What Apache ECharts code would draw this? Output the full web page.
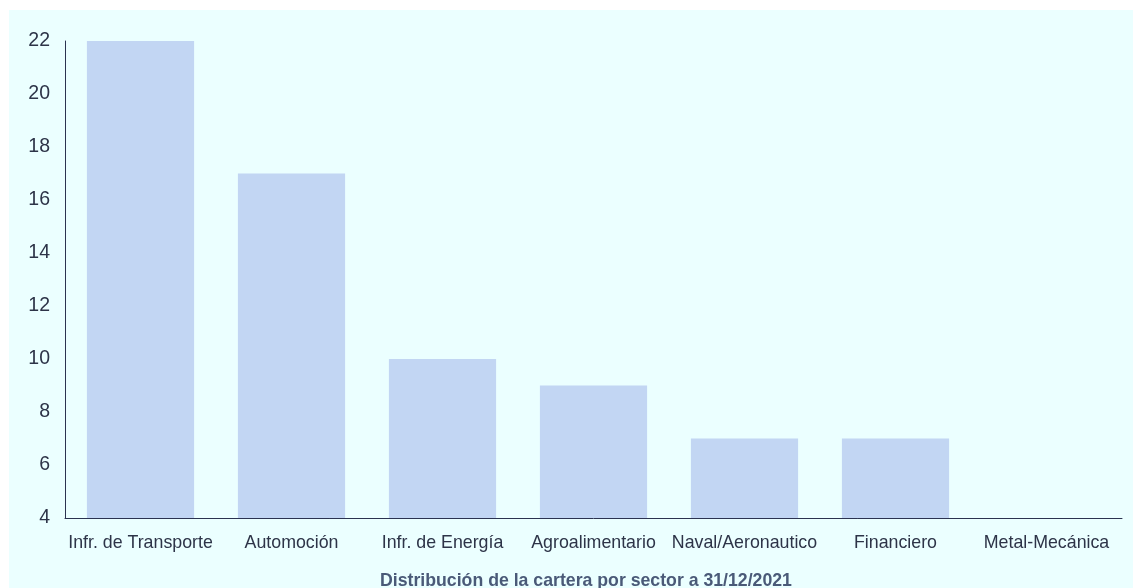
<!DOCTYPE html>
<html>
<head>
<meta charset="utf-8">
<script src="https://cdn.jsdelivr.net/npm/echarts@6/dist/echarts.min.js"></script>
<style>
html,body{margin:0;padding:0;background:#ffffff;width:1133px;height:588px;overflow:hidden;}
#c{position:absolute;left:9px;top:10px;width:1124px;height:578px;}
</style>
</head>
<body>
<div id="c"></div>
<script>
const categories = ["Infr. de Transporte","Automoción","Infr. de Energía","Agroalimentario","Naval/Aeronautico","Financiero","Metal-Mecánica"];
const values = [22,17,10,9,7,7,4];
const yMin = 4, yMax = 22, yStep = 2;
const titleText = "Distribución de la cartera por sector a 31/12/2021";

const chart = echarts.init(document.getElementById('c'));
chart.setOption({
  backgroundColor: '#ebffff',
  animation: false,
  grid: {left: 56, right: 11, top: 31, bottom: 70},
  xAxis: {
    type: 'category',
    data: categories,
    axisLine: {lineStyle: {color: '#2b3350', width: 1}},
    axisTick: {show: false},
    axisLabel: {interval: 0, color: '#2d3448', fontSize: 17.8, fontFamily: 'Liberation Sans, Arial, sans-serif', margin: 16}
  },
  yAxis: {
    type: 'value',
    min: yMin, max: yMax, interval: yStep,
    axisLine: {show: true, lineStyle: {color: '#2b3350', width: 1}},
    axisTick: {show: false},
    splitLine: {show: false},
    axisLabel: {color: '#2d3448', fontSize: 19.5, fontFamily: 'Liberation Sans, Arial, sans-serif', margin: 15}
  },
  graphic: [{
    type: 'text',
    x: 577,
    y: 571,
    style: {text: titleText, fill: '#4a5a78', font: 'bold 17.7px Liberation Sans, Arial, sans-serif', textAlign: 'center', textVerticalAlign: 'middle'}
  }],
  series: [{
    type: 'bar',
    data: values,
    barCategoryGap: '29%',
    itemStyle: {color: '#c2d6f3'}
  }]
});
</script>
</body>
</html>
